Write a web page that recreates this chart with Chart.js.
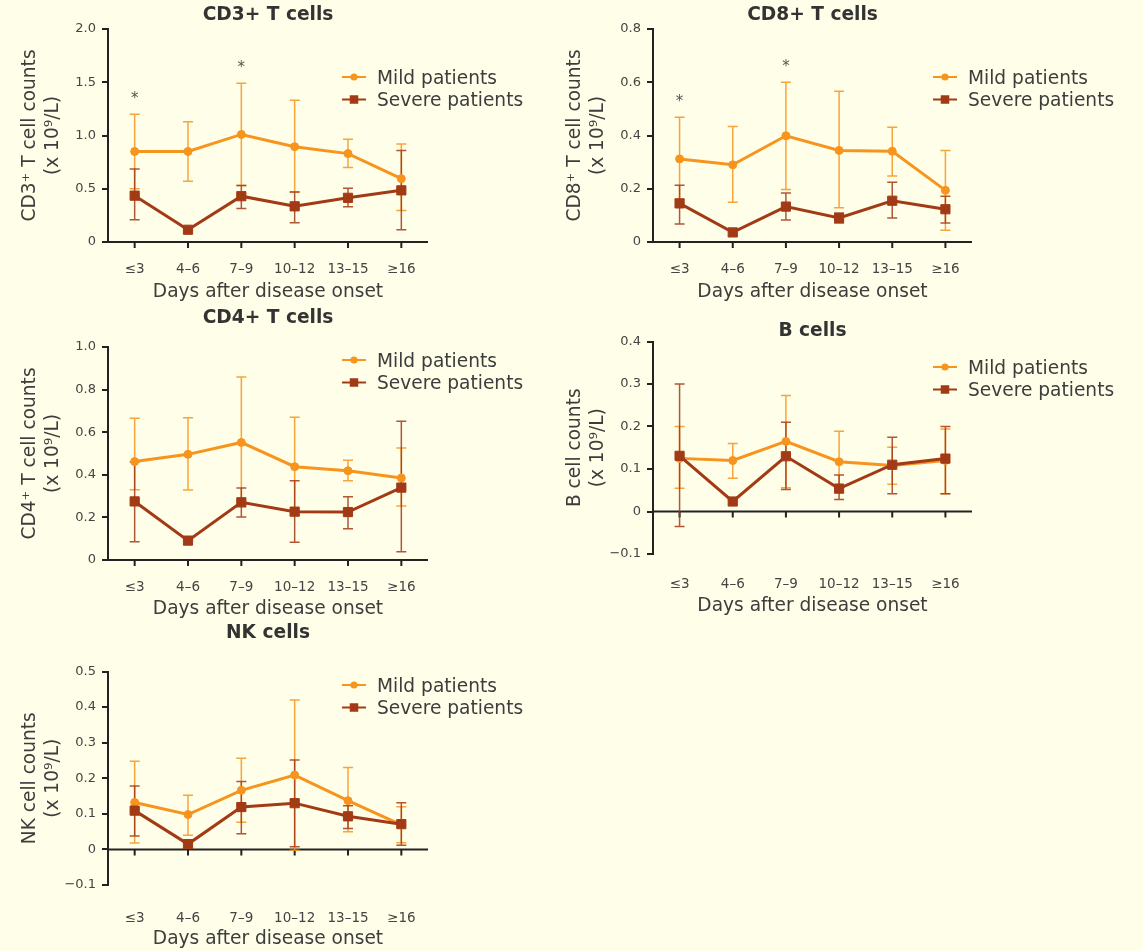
<!DOCTYPE html>
<html>
<head>
<meta charset="utf-8">
<title>Lymphocyte subsets by days after disease onset</title>
<script src="https://cdn.jsdelivr.net/npm/chart.js@4.4.1/dist/chart.umd.min.js"></script>
<style>
  html, body { margin: 0; padding: 0; background: #FFFEE8; }
  #board { position: relative; width: 1143px; height: 951px; overflow: hidden; background: #FFFEE8; }
  #board canvas { position: absolute; }
</style>
</head>
<body>
<div id="board"></div>
<script>
// ---- Data (cell counts, x 10^9/L; mean with lower / upper error bound) ----
const dayGroups = ['≤3', '4–6', '7–9', '10–12', '13–15', '≥16'];

const cd3MildMean    = [0.85, 0.85, 1.01, 0.895, 0.83, 0.595];
const cd3MildLow     = [0.50, 0.57, 0.53, 0.47, 0.70, 0.295];
const cd3MildHigh    = [1.20, 1.13, 1.49, 1.33, 0.965, 0.92];
const cd3SevereMean  = [0.435, 0.115, 0.43, 0.335, 0.415, 0.485];
const cd3SevereLow   = [0.21, 0.115, 0.315, 0.18, 0.33, 0.115];
const cd3SevereHigh  = [0.685, 0.115, 0.53, 0.47, 0.505, 0.86];
const cd3Ticks       = [0, 0.5, 1.0, 1.5, 2.0];
const cd3Starred     = ['≤3', '7–9'];

const cd8MildMean    = [0.312, 0.29, 0.399, 0.344, 0.341, 0.194];
const cd8MildLow     = [0.161, 0.149, 0.197, 0.129, 0.248, 0.044];
const cd8MildHigh    = [0.469, 0.434, 0.60, 0.566, 0.431, 0.344];
const cd8SevereMean  = [0.145, 0.036, 0.133, 0.09, 0.155, 0.123];
const cd8SevereLow   = [0.068, 0.036, 0.083, 0.071, 0.09, 0.071];
const cd8SevereHigh  = [0.213, 0.036, 0.184, 0.109, 0.224, 0.172];
const cd8Ticks       = [0, 0.2, 0.4, 0.6, 0.8];
const cd8Starred     = ['≤3', '7–9'];

const cd4MildMean    = [0.462, 0.496, 0.552, 0.438, 0.419, 0.385];
const cd4MildLow     = [0.33, 0.329, 0.25, 0.21, 0.372, 0.254];
const cd4MildHigh    = [0.665, 0.668, 0.859, 0.67, 0.468, 0.526];
const cd4SevereMean  = [0.275, 0.091, 0.271, 0.227, 0.225, 0.34];
const cd4SevereLow   = [0.086, 0.091, 0.202, 0.083, 0.147, 0.039];
const cd4SevereHigh  = [0.46, 0.091, 0.338, 0.372, 0.297, 0.651];
const cd4Ticks       = [0, 0.2, 0.4, 0.6, 0.8, 1.0];
const cd4Starred     = [];

const bMildMean      = [0.125, 0.12, 0.165, 0.117, 0.108, 0.12];
const bMildLow       = [0.055, 0.078, 0.056, 0.044, 0.064, 0.042];
const bMildHigh      = [0.20, 0.16, 0.273, 0.189, 0.151, 0.194];
const bSevereMean    = [0.131, 0.0235, 0.13, 0.054, 0.11, 0.1245];
const bSevereLow     = [-0.035, 0.0235, 0.052, 0.028, 0.042, 0.0415];
const bSevereHigh    = [0.30, 0.0235, 0.21, 0.086, 0.175, 0.20];
const bTicks         = [-0.1, 0, 0.1, 0.2, 0.3, 0.4];
const bStarred       = [];

const nkMildMean     = [0.132, 0.098, 0.166, 0.209, 0.137, 0.069];
const nkMildLow      = [0.018, 0.04, 0.076, -0.002, 0.05, 0.019];
const nkMildHigh     = [0.248, 0.152, 0.256, 0.42, 0.23, 0.12];
const nkSevereMean   = [0.109, 0.015, 0.119, 0.13, 0.093, 0.071];
const nkSevereLow    = [0.0375, 0.015, 0.044, 0.0075, 0.059, 0.012];
const nkSevereHigh   = [0.178, 0.015, 0.191, 0.251, 0.123, 0.131];
const nkTicks        = [-0.1, 0, 0.1, 0.2, 0.3, 0.4, 0.5];
const nkStarred      = [];

const seriesNames = ['Mild patients', 'Severe patients'];
const xAxisTitle = 'Days after disease onset';

// ---- Styling ----
const MILD = '#F7941D';
const MILD_ERR = 'rgba(247,148,29,0.85)';
const SEVERE = '#A33A16';
const SEVERE_ERR = 'rgba(163,58,22,0.85)';
const INK = '#222222';
const TEXT = '#3d3d3d';
const FONT = '"DejaVu Sans", Verdana, sans-serif';
const BIG = 18.6;
const X_AXIS_H = 66;
const X_TICK_SIZE = 13.5;

Chart.defaults.font.family = FONT;

// ---- Panel layout (page pixels) ----
const panels = [
  { title: 'CD3+ T cells', yTitle: ['CD3⁺ T cell counts', '(x 10⁹/L)'],
    mild: [cd3MildMean, cd3MildLow, cd3MildHigh], severe: [cd3SevereMean, cd3SevereLow, cd3SevereHigh],
    ticks: cd3Ticks, starred: cd3Starred,
    canvas: { left: 0, top: 0, width: 560, height: 312 },
    area: { left: 108, right: 428, top: 29, bottom: 242 },
    titleY: 15, legend: { x: 354, y: 77 }, labelGap: 19, xTitleGap: 50 },
  { title: 'CD8+ T cells', yTitle: ['CD8⁺ T cell counts', '(x 10⁹/L)'],
    mild: [cd8MildMean, cd8MildLow, cd8MildHigh], severe: [cd8SevereMean, cd8SevereLow, cd8SevereHigh],
    ticks: cd8Ticks, starred: cd8Starred,
    canvas: { left: 545, top: 0, width: 598, height: 312 },
    area: { left: 653, right: 972, top: 29, bottom: 242 },
    titleY: 15, legend: { x: 945, y: 77 }, labelGap: 19, xTitleGap: 50 },
  { title: 'CD4+ T cells', yTitle: ['CD4⁺ T cell counts', '(x 10⁹/L)'],
    mild: [cd4MildMean, cd4MildLow, cd4MildHigh], severe: [cd4SevereMean, cd4SevereLow, cd4SevereHigh],
    ticks: cd4Ticks, starred: cd4Starred,
    canvas: { left: 0, top: 300, width: 560, height: 330 },
    area: { left: 108, right: 428, top: 347, bottom: 560 },
    titleY: 318, legend: { x: 354, y: 360 }, labelGap: 19, xTitleGap: 49 },
  { title: 'B cells', yTitle: ['B cell counts', '(x 10⁹/L)'],
    mild: [bMildMean, bMildLow, bMildHigh], severe: [bSevereMean, bSevereLow, bSevereHigh],
    ticks: bTicks, starred: bStarred,
    canvas: { left: 545, top: 310, width: 598, height: 314 },
    area: { left: 653, right: 972, top: 341.5, bottom: 554 },
    titleY: 331, legend: { x: 945, y: 367 }, labelGap: 22, xTitleGap: 52 },
  { title: 'NK cells', yTitle: ['NK cell counts', '(x 10⁹/L)'],
    mild: [nkMildMean, nkMildLow, nkMildHigh], severe: [nkSevereMean, nkSevereLow, nkSevereHigh],
    ticks: nkTicks, starred: nkStarred,
    canvas: { left: 0, top: 620, width: 560, height: 331 },
    area: { left: 108, right: 428, top: 671.5, bottom: 885 },
    titleY: 633, legend: { x: 354, y: 685 }, labelGap: 25, xTitleGap: 54 }
];

function formatTick(v) {
  if (Math.abs(v) < 1e-9) return '0';
  return (v < 0 ? '\u2212' : '') + Math.abs(v).toFixed(1);
}

// Draws the zero line with category ticks, error bars, title, legend and significance marks.
function makeDecor(p) {
  return {
    id: 'panelDecor',
    beforeDatasetsDraw(chart) {
      const ctx = chart.ctx, xs = chart.scales.x, ys = chart.scales.y, area = chart.chartArea;
      const y0 = ys.getPixelForValue(Math.max(0, ys.min));
      ctx.save();
      ctx.strokeStyle = INK;
      ctx.lineWidth = 2;
      ctx.beginPath();
      ctx.moveTo(area.left - 1, y0);
      ctx.lineTo(area.right, y0);
      for (let i = 0; i < xs.ticks.length; i++) {
        const px = xs.getPixelForTick(i);
        ctx.moveTo(px, y0);
        ctx.lineTo(px, y0 + 6);
      }
      ctx.stroke();

      chart.data.datasets.forEach((ds, di) => {
        const meta = chart.getDatasetMeta(di);
        ctx.strokeStyle = ds.errorColor;
        ctx.lineWidth = 1.5;
        meta.data.forEach((pt, j) => {
          const lo = ds.errLow[j], hi = ds.errHigh[j];
          if (hi - lo < 1e-6) return;
          const yl = ys.getPixelForValue(lo), yh = ys.getPixelForValue(hi);
          ctx.beginPath();
          ctx.moveTo(pt.x, yl); ctx.lineTo(pt.x, yh);
          ctx.moveTo(pt.x - 5, yl); ctx.lineTo(pt.x + 5, yl);
          ctx.moveTo(pt.x - 5, yh); ctx.lineTo(pt.x + 5, yh);
          ctx.stroke();
        });
      });
      ctx.restore();
    },
    afterDraw(chart) {
      const ctx = chart.ctx, xs = chart.scales.x, ys = chart.scales.y, area = chart.chartArea;
      ctx.save();
      // panel title
      ctx.fillStyle = '#333333';
      ctx.font = 'bold ' + BIG + 'px ' + FONT;
      ctx.textAlign = 'center';
      ctx.textBaseline = 'middle';
      ctx.fillText(p.title, (area.left + area.right) / 2, p.titleY - p.canvas.top);

      // significance marks
      ctx.fillStyle = '#555555';
      ctx.font = '15px ' + FONT;
      p.starred.forEach(lbl => {
        const i = dayGroups.indexOf(lbl);
        const px = xs.getPixelForValue(i);
        const top = Math.min(ys.getPixelForValue(p.mild[2][i]), ys.getPixelForValue(p.severe[2][i]));
        ctx.fillText('*', px, top - 15);
      });

      // legend
      const lx = p.legend.x - p.canvas.left;
      let ly = p.legend.y - p.canvas.top;
      chart.data.datasets.forEach(ds => {
        ctx.strokeStyle = ds.borderColor;
        ctx.fillStyle = ds.borderColor;
        ctx.lineWidth = 2;
        ctx.beginPath();
        ctx.moveTo(lx - 12, ly); ctx.lineTo(lx + 12, ly);
        ctx.stroke();
        if (ds.pointStyle === 'rect') {
          ctx.fillRect(lx - 4.25, ly - 4.25, 8.5, 8.5);
        } else {
          ctx.beginPath();
          ctx.arc(lx, ly, 3.6, 0, Math.PI * 2);
          ctx.fill();
        }
        ctx.fillStyle = TEXT;
        ctx.font = BIG + 'px ' + FONT;
        ctx.textAlign = 'left';
        ctx.fillText(ds.label, lx + 23, ly + 2);
        ly += 22.5;
      });
      ctx.restore();
    }
  };
}

const board = document.getElementById('board');

panels.forEach(p => {
  const cv = document.createElement('canvas');
  cv.width = p.canvas.width;
  cv.height = p.canvas.height;
  cv.style.left = p.canvas.left + 'px';
  cv.style.top = p.canvas.top + 'px';
  cv.style.width = p.canvas.width + 'px';
  cv.style.height = p.canvas.height + 'px';
  board.appendChild(cv);

  const yAxisW = p.area.left - p.canvas.left;
  const padTop = p.area.top - p.canvas.top;
  const padRight = p.canvas.left + p.canvas.width - p.area.right;
  const padBottom = p.canvas.top + p.canvas.height - p.area.bottom - X_AXIS_H;

  new Chart(cv, {
    type: 'line',
    data: {
      labels: dayGroups,
      datasets: [
        { label: seriesNames[0], data: p.mild[0], errLow: p.mild[1], errHigh: p.mild[2], errorColor: MILD_ERR,
          borderColor: MILD, backgroundColor: MILD, pointBackgroundColor: MILD, pointBorderColor: MILD,
          borderWidth: 3, pointStyle: 'circle', pointRadius: 4, pointBorderWidth: 1, tension: 0, order: 1 },
        { label: seriesNames[1], data: p.severe[0], errLow: p.severe[1], errHigh: p.severe[2], errorColor: SEVERE_ERR,
          borderColor: SEVERE, backgroundColor: SEVERE, pointBackgroundColor: SEVERE, pointBorderColor: SEVERE,
          borderWidth: 3, pointStyle: 'rect', pointRadius: 6.5, pointBorderWidth: 1, tension: 0, order: 0 }
      ]
    },
    options: {
      responsive: false,
      animation: false,
      devicePixelRatio: 1,
      layout: { padding: { left: 0, top: padTop, right: padRight, bottom: padBottom } },
      plugins: { legend: { display: false }, title: { display: false }, tooltip: { enabled: false } },
      events: [],
      scales: {
        x: {
          type: 'category',
          offset: true,
          grid: { display: false },
          border: { display: false },
          ticks: { color: '#444444', font: { size: X_TICK_SIZE }, padding: p.labelGap - X_TICK_SIZE * 0.6,
                   maxRotation: 0, autoSkip: false },
          title: { display: true, text: xAxisTitle, color: TEXT, font: { size: BIG },
                   padding: { top: 0, bottom: X_AXIS_H - p.xTitleGap - BIG * 0.6 } },
          afterFit(s) { s.height = X_AXIS_H; }
        },
        y: {
          min: p.ticks[0],
          max: p.ticks[p.ticks.length - 1],
          ticks: { stepSize: p.ticks[1] - p.ticks[0], color: '#444444', font: { size: 13 }, padding: 6, callback: formatTick },
          grid: { drawOnChartArea: false, drawTicks: true, tickLength: 6, color: INK, lineWidth: 2 },
          border: { display: true, color: INK, width: 2 },
          title: { display: true, text: p.yTitle, color: TEXT, font: { size: BIG, lineHeight: 1.22 },
                   padding: { top: 19, bottom: 0 } },
          afterFit(s) { s.width = yAxisW; }
        }
      }
    },
    plugins: [makeDecor(p)]
  });
});
</script>
</body>
</html>
